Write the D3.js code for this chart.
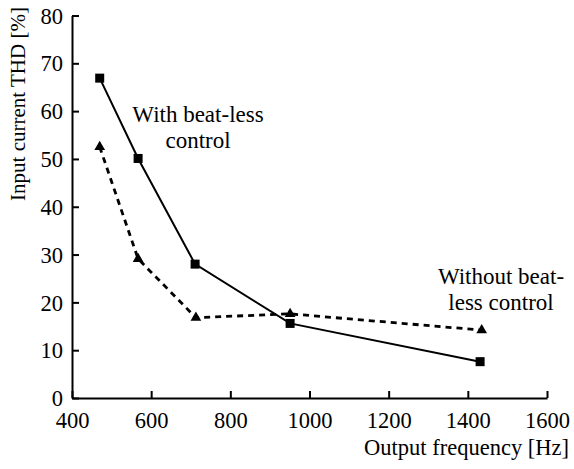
<!DOCTYPE html>
<html><head><meta charset="utf-8">
<script src="https://cdn.jsdelivr.net/npm/d3@7"></script>
<style>body{margin:0;background:#fff}svg{display:block}</style>
</head><body>
<svg id="c" width="574" height="469"></svg>
<script>
const freq = [470, 567, 711, 951, 1431];
const withBeatless = [66.9, 50.1, 28.0, 15.6, 7.6];
const freqWithout = [470, 567, 713, 951, 1435];
const withoutBeatless = [52.5, 29.1, 16.8, 17.6, 14.2];
const xTicks = [400, 600, 800, 1000, 1200, 1400, 1600];
const yTicks = [0, 10, 20, 30, 40, 50, 60, 70, 80];

const FONT = "Liberation Serif";
const svg = d3.select("#c");
const x = d3.scaleLinear().domain([400, 1600]).range([72, 547]);
const y = d3.scaleLinear().domain([0, 80]).range([398, 15.5]);

const xa = svg.append("g").attr("transform","translate(0,398)")
  .call(d3.axisBottom(x).tickValues(xTicks).tickFormat(d3.format("d")).tickSize(-7).tickSizeOuter(0).tickPadding(14));
const ya = svg.append("g").attr("transform","translate(72,0)")
  .call(d3.axisLeft(y).tickValues(yTicks).tickFormat(d3.format("d")).tickSize(-7).tickSizeOuter(0).tickPadding(9));
[xa, ya].forEach(a => {
  a.attr("font-family", null);
  a.select(".domain").attr("stroke","#000").attr("stroke-width",2);
  a.selectAll(".tick line").attr("stroke","#000").attr("stroke-width",2);
  a.selectAll(".tick text").style("font-family",FONT).style("font-size","22.5px").attr("fill","#000");
});
xa.selectAll(".tick text").attr("dy","0.71em");
ya.selectAll(".tick text").attr("dy","0.34em");

const d1 = freq.map((f,i)=>[f, withBeatless[i]]);
const d2 = freqWithout.map((f,i)=>[f, withoutBeatless[i]]);
const line = d3.line().x(d=>x(d[0])).y(d=>y(d[1]));

svg.append("path").attr("d", line(d2)).attr("fill","none").attr("stroke","#000")
  .attr("stroke-width",2.8).attr("stroke-dasharray","6,5");
svg.append("path").attr("d", line(d1)).attr("fill","none").attr("stroke","#000").attr("stroke-width",2);

svg.selectAll(".sq").data(d1).enter().append("rect")
  .attr("x", d=>x(d[0])-4.5).attr("y", d=>y(d[1])-4.5).attr("width",9).attr("height",9).attr("fill","#000");
const tri = d3.symbol().type(d3.symbolTriangle).size(50);
svg.selectAll(".tr").data(d2).enter().append("path")
  .attr("d", tri).attr("transform", d=>`translate(${x(d[0])},${y(d[1])})`).attr("fill","#000");

function label(lines, cx, y0, dy){
  const t = svg.append("text").attr("text-anchor","middle").style("font-family",FONT).style("font-size","23px");
  lines.forEach((s,i)=>t.append("tspan").attr("x",cx).attr("y",y0+i*dy).text(s));
}
label(["With beat-less","control"], 198, 122, 26);
label(["Without beat-","less control"], 501, 284, 26);

svg.append("text").style("font-family",FONT).style("font-size","21px").attr("text-anchor","middle")
  .attr("transform","translate(25,104) rotate(-90)").text("Input current THD [%]");
svg.append("text").style("font-family",FONT).style("font-size","22.5px").attr("text-anchor","end")
  .attr("x",569).attr("y",455).text("Output frequency [Hz]");
</script>
</body></html>
